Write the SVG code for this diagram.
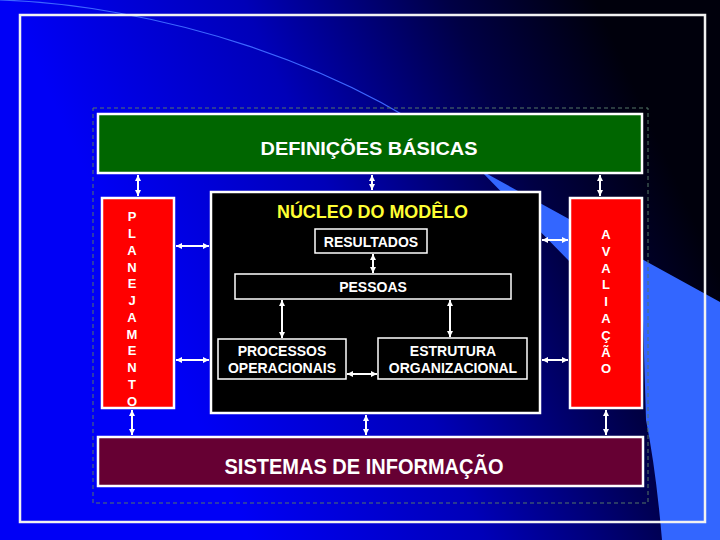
<svg xmlns="http://www.w3.org/2000/svg" width="720" height="540" viewBox="0 0 720 540">
<defs>
<linearGradient id="bg" gradientUnits="userSpaceOnUse" x1="200" y1="430" x2="690" y2="210">
<stop offset="0" stop-color="#0000f6"/>
<stop offset="0.4" stop-color="#0000b8"/>
<stop offset="0.75" stop-color="#000045"/>
<stop offset="1" stop-color="#00000c"/>
</linearGradient>
<marker id="ah" viewBox="0 0 10 10" refX="10" refY="5" markerUnits="userSpaceOnUse" markerWidth="6" markerHeight="7" orient="auto-start-reverse">
<path d="M0,0 L10,5 L0,10 z" fill="#ffffff"/>
</marker>
<style>
.box{stroke:#ffffff;stroke-width:2.5}
.ibox{fill:#000000;stroke:#ffffff;stroke-width:1.5}
.t{font-family:"Liberation Sans",Arial,sans-serif;font-weight:bold;fill:#ffffff;text-anchor:middle}
.v{font-size:13px}
.conn line{stroke:#ffffff;stroke-width:2;marker-start:url(#ah);marker-end:url(#ah)}
</style>
</defs>
<rect x="0" y="0" width="720" height="540" fill="url(#bg)"/>
<path d="M480,170 L720,302 L720,540 L662,540 Q656,470 646,420 L643,320 L570,262 Z" fill="#3366ff"/>
<path d="M0,0 C150,5 350,60 485,172" fill="none" stroke="#3d66ff" stroke-width="1.2"/>
<rect x="20" y="15" width="685" height="507" fill="none" stroke="#f2f2f2" stroke-width="2.5"/>
<rect x="93" y="108" width="555" height="395" fill="none" stroke="#557766" stroke-width="1" stroke-dasharray="4,3"/>

<g id="definicoes">
<rect class="box" x="98" y="114" width="544" height="59" fill="#006600"/>
<text class="t" x="369" y="155" font-size="19" textLength="217" lengthAdjust="spacingAndGlyphs">DEFINIÇÕES BÁSICAS</text>
</g>

<g id="planejamento">
<rect class="box" x="102" y="198" width="72" height="210" fill="#ff0000"/>
<text class="t v" x="132" y="221.4">P</text>
<text class="t v" x="132" y="238.2">L</text>
<text class="t v" x="132" y="254.9">A</text>
<text class="t v" x="132" y="271.7">N</text>
<text class="t v" x="132" y="288.4">E</text>
<text class="t v" x="132" y="305.2">J</text>
<text class="t v" x="132" y="321.9">A</text>
<text class="t v" x="132" y="338.7">M</text>
<text class="t v" x="132" y="355.4">E</text>
<text class="t v" x="132" y="372.2">N</text>
<text class="t v" x="132" y="388.9">T</text>
<text class="t v" x="132" y="405.7">O</text>
</g>

<g id="avaliacao">
<rect class="box" x="570" y="198" width="72" height="210" fill="#ff0000"/>
<text class="t v" x="606" y="239">A</text>
<text class="t v" x="606" y="255.8">V</text>
<text class="t v" x="606" y="272.6">A</text>
<text class="t v" x="606" y="289.4">L</text>
<text class="t v" x="606" y="306.2">I</text>
<text class="t v" x="606" y="323">A</text>
<text class="t v" x="606" y="339.8">Ç</text>
<text class="t v" x="606" y="356.6">Ã</text>
<text class="t v" x="606" y="373.4">O</text>
</g>

<g id="nucleo">
<rect class="box" x="211" y="192" width="329" height="221" fill="#000000"/>
<text class="t" x="372.5" y="218" font-size="18" style="fill:#ffff33" textLength="191" lengthAdjust="spacingAndGlyphs">NÚCLEO DO MODÊLO</text>
</g>

<g id="resultados">
<rect class="ibox" x="315" y="229" width="112" height="24"/>
<text class="t" x="371" y="247" font-size="14">RESULTADOS</text>
</g>

<g id="pessoas">
<rect class="ibox" x="235" y="274" width="276" height="25"/>
<text class="t" x="373" y="292" font-size="14">PESSOAS</text>
</g>

<g id="processos">
<rect class="ibox" x="218" y="339" width="128" height="40"/>
<text class="t" x="282" y="356" font-size="14">PROCESSOS</text>
<text class="t" x="282" y="373" font-size="14">OPERACIONAIS</text>
</g>

<g id="estrutura">
<rect class="ibox" x="378" y="338" width="149" height="41"/>
<text class="t" x="453" y="356" font-size="14">ESTRUTURA</text>
<text class="t" x="453" y="373" font-size="14">ORGANIZACIONAL</text>
</g>

<g id="sistemas">
<rect class="box" x="98" y="437" width="545" height="49" fill="#660033"/>
<text class="t" x="364" y="474" font-size="22" textLength="279" lengthAdjust="spacingAndGlyphs">SISTEMAS DE INFORMAÇÃO</text>
</g>

<g class="conn" id="connectors">
<line x1="138" y1="175" x2="138" y2="196"/>
<line x1="372" y1="175" x2="372" y2="190"/>
<line x1="600" y1="175" x2="600" y2="196"/>
<line x1="176" y1="246" x2="209" y2="246"/>
<line x1="176" y1="360" x2="209" y2="360"/>
<line x1="542" y1="240" x2="568" y2="240"/>
<line x1="542" y1="360" x2="568" y2="360"/>
<line x1="132" y1="410" x2="132" y2="435"/>
<line x1="366" y1="415" x2="366" y2="435"/>
<line x1="606" y1="410" x2="606" y2="435"/>
<line x1="373" y1="254" x2="373" y2="273"/>
<line x1="282" y1="300" x2="282" y2="338"/>
<line x1="450" y1="300" x2="450" y2="337"/>
<line x1="347" y1="374" x2="377" y2="374"/>
</g>
</svg>
